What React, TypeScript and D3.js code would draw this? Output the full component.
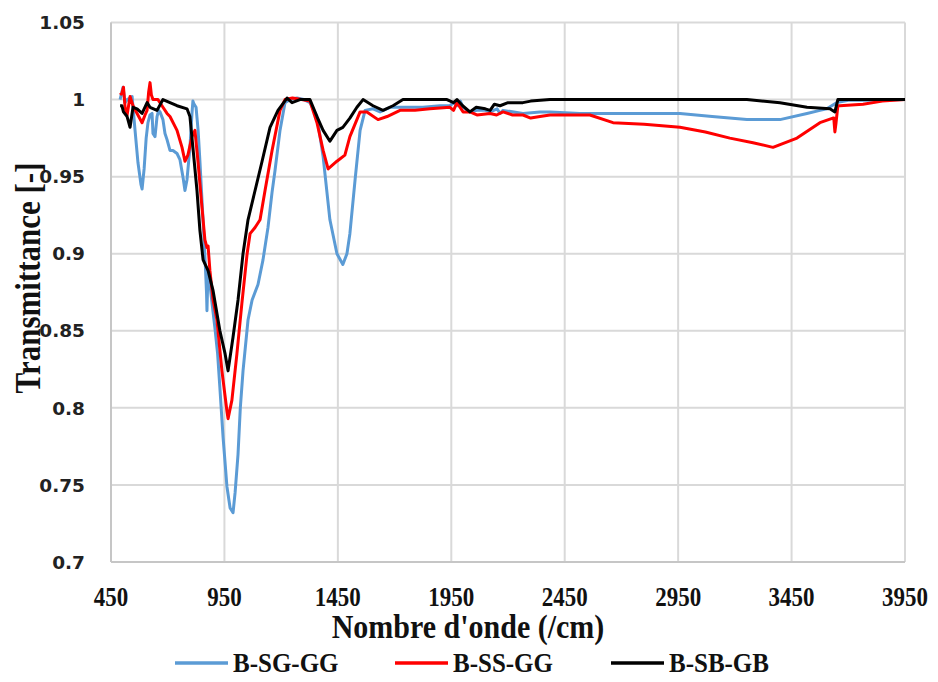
import React from "react";
import * as d3 from "d3";

const xTicks = [450, 950, 1450, 1950, 2450, 2950, 3450, 3950];
const yTicks = [0.7, 0.75, 0.8, 0.85, 0.9, 0.95, 1, 1.05];
const yTickLabels = ["0.7", "0.75", "0.8", "0.85", "0.9", "0.95", "1", "1.05"];

const seriesNames = ["B-SG-GG", "B-SS-GG", "B-SB-GB"];
const seriesColors = ["#5B9BD5", "#FF0000", "#000000"];

const blue: [number, number][] = [
  [490, 1.0], [498, 1.005], [503, 1.008], [512, 0.998], [521, 1.0], [534, 1.001], [543, 1.002],
  [556, 0.98], [569, 0.959], [582, 0.945], [587, 0.942], [596, 0.955], [605, 0.975], [613, 0.985],
  [622, 0.99], [631, 0.991], [635, 0.978], [644, 0.976], [653, 0.989], [660, 0.993], [666, 0.992],
  [679, 0.987], [688, 0.978], [697, 0.974], [710, 0.967], [723, 0.967], [741, 0.965], [754, 0.961],
  [767, 0.95], [776, 0.941], [785, 0.948], [798, 0.969], [807, 0.991], [811, 0.999], [816, 0.997],
  [825, 0.995], [834, 0.98], [842, 0.96], [851, 0.935], [860, 0.91], [866, 0.892], [871, 0.875],
  [873, 0.863], [876, 0.88], [880, 0.89], [890, 0.875], [900, 0.862], [908, 0.852], [920, 0.835],
  [930, 0.813], [944, 0.781], [961, 0.749], [975, 0.735], [988, 0.732], [997, 0.745], [1010, 0.77],
  [1020, 0.8], [1032, 0.824], [1054, 0.857], [1072, 0.87], [1098, 0.88], [1120, 0.896], [1142, 0.917],
  [1160, 0.94], [1173, 0.954], [1195, 0.98], [1217, 0.998], [1240, 1.0], [1270, 1.001], [1300, 1.0],
  [1327, 0.998], [1358, 0.989], [1385, 0.963], [1415, 0.922], [1446, 0.9], [1472, 0.893], [1490, 0.9],
  [1503, 0.913], [1526, 0.948], [1548, 0.98], [1570, 0.993], [1605, 0.994], [1636, 0.992], [1680, 0.995],
  [1755, 0.995], [1825, 0.995], [1900, 0.996], [1944, 0.996], [1960, 0.998], [1975, 0.996], [1990, 0.999],
  [2002, 0.995], [2032, 0.992], [2063, 0.993], [2100, 0.993], [2121, 0.992], [2152, 0.994], [2165, 0.991],
  [2178, 0.993], [2266, 0.991], [2341, 0.992], [2385, 0.992], [2517, 0.991], [2663, 0.991], [2958, 0.991],
  [3100, 0.989], [3253, 0.987], [3399, 0.987], [3518, 0.991], [3575, 0.993], [3605, 0.994], [3650, 0.998],
  [3700, 0.9995], [3800, 0.9995], [3950, 1.0],
];

const red: [number, number][] = [
  [490, 1.003], [498, 1.004], [505, 1.008], [512, 0.995], [521, 0.99], [534, 1.002], [547, 0.996],
  [565, 0.991], [587, 0.985], [600, 0.99], [609, 0.993], [616, 1.005], [622, 1.011], [628, 1.003],
  [635, 1.0], [657, 1.0], [679, 0.995], [697, 0.991], [710, 0.989], [741, 0.98], [763, 0.969],
  [776, 0.96], [789, 0.964], [807, 0.976], [820, 0.98], [834, 0.959], [851, 0.93], [864, 0.909],
  [873, 0.904], [878, 0.905], [886, 0.889], [900, 0.87], [917, 0.857], [939, 0.824], [961, 0.798],
  [966, 0.793], [983, 0.805], [1005, 0.835], [1027, 0.868], [1050, 0.9], [1063, 0.913], [1085, 0.917],
  [1107, 0.922], [1129, 0.941], [1160, 0.967], [1195, 0.993], [1217, 1.0], [1250, 1.001], [1290, 1.0],
  [1327, 0.999], [1358, 0.985], [1385, 0.967], [1407, 0.955], [1446, 0.96], [1481, 0.964], [1503, 0.976],
  [1548, 0.992], [1578, 0.992], [1627, 0.987], [1667, 0.989], [1724, 0.993], [1790, 0.993], [1856, 0.994],
  [1944, 0.995], [1960, 0.993], [1975, 0.998], [2002, 0.992], [2032, 0.992], [2063, 0.99], [2121, 0.991],
  [2150, 0.99], [2178, 0.992], [2220, 0.99], [2266, 0.99], [2300, 0.988], [2341, 0.989], [2385, 0.99],
  [2450, 0.99], [2517, 0.99], [2561, 0.99], [2663, 0.985], [2800, 0.984], [2958, 0.982], [3070, 0.979],
  [3178, 0.975], [3280, 0.972], [3368, 0.969], [3474, 0.975], [3575, 0.985], [3632, 0.988], [3636, 0.988],
  [3641, 0.979], [3646, 0.985], [3654, 0.996], [3663, 0.996], [3765, 0.997], [3850, 0.999], [3950, 1.0],
];

const black: [number, number][] = [
  [490, 0.996], [498, 0.996], [505, 0.992], [521, 0.989], [534, 0.982], [547, 0.995], [565, 0.994],
  [587, 0.991], [609, 0.998], [622, 0.995], [653, 0.993], [679, 1.0], [710, 0.998], [741, 0.996],
  [785, 0.994], [798, 0.989], [811, 0.969], [829, 0.941], [842, 0.915], [856, 0.896], [878, 0.889],
  [900, 0.876], [930, 0.85], [953, 0.835], [966, 0.824], [988, 0.846], [1010, 0.87], [1032, 0.9],
  [1054, 0.922], [1085, 0.941], [1116, 0.96], [1151, 0.982], [1186, 0.993], [1226, 1.001], [1248, 0.998],
  [1283, 1.0], [1327, 1.0], [1358, 0.989], [1385, 0.98], [1415, 0.973], [1446, 0.98], [1472, 0.982],
  [1503, 0.988], [1534, 0.995], [1561, 1.0], [1605, 0.996], [1649, 0.993], [1693, 0.996], [1737, 1.0],
  [1931, 1.0], [1960, 0.998], [1975, 1.0], [2000, 0.996], [2032, 0.992], [2060, 0.995], [2100, 0.994],
  [2121, 0.993], [2140, 0.997], [2165, 0.996], [2200, 0.998], [2266, 0.998], [2300, 0.999], [2385, 1.0],
  [3253, 1.0], [3399, 0.998], [3518, 0.995], [3619, 0.994], [3641, 0.992], [3654, 1.0], [3950, 1.0],
];

const seriesData = [blue, red, black];

export default function App() {
  const W = 938, H = 682;
  const left = 111, right = 905, top = 22.5, bottom = 562;
  const x = d3.scaleLinear().domain([450, 3950]).range([left, right]);
  const y = d3.scaleLinear().domain([0.7, 1.05]).range([bottom, top]);
  const line = d3.line<[number, number]>().x(d => x(d[0])).y(d => y(d[1]));
  const legendX = [175, 395, 611];

  return (
    <svg width={W} height={H} style={{ position: "absolute", left: 0, top: 0, background: "#fff" }}>
      <rect width={W} height={H} fill="#fff" />
      {yTicks.map(t => (
        <line key={"gy" + t} x1={left} x2={right} y1={y(t)} y2={y(t)} stroke="#D9D9D9" strokeWidth={2} />
      ))}
      {xTicks.map(t => (
        <line key={"gx" + t} x1={x(t)} x2={x(t)} y1={top} y2={bottom} stroke="#D9D9D9" strokeWidth={2} />
      ))}
      <line x1={left} x2={left} y1={top} y2={bottom} stroke="#C6C6C6" strokeWidth={2} />
      <line x1={left} x2={right} y1={bottom} y2={bottom} stroke="#C6C6C6" strokeWidth={2} />
      {seriesData.map((s, i) => (
        <path key={i} d={line(s) || ""} fill="none" stroke={seriesColors[i]} strokeWidth={3} strokeLinejoin="round" />
      ))}
      {yTicks.map((t, i) => (
        <text key={"ty" + t} x={85} y={y(t)} dy="0.36em" textAnchor="end" fontFamily="DejaVu Sans" fontWeight="bold" fontSize={18.5} fill="#222">
          {yTickLabels[i]}
        </text>
      ))}
      {xTicks.map(t => (
        <text key={"tx" + t} transform={`translate(${x(t)},606) scale(1,1.18)`} textAnchor="middle" fontFamily="Liberation Sans Narrow" fontWeight="bold" fontSize={23} fill="#111">
          {t}
        </text>
      ))}
      <text transform="translate(468,638) scale(1,1.1)" textAnchor="middle" fontFamily="Liberation Serif" fontWeight="bold" fontSize={30} fill="#111">
        Nombre d'onde (/cm)
      </text>
      <text transform={`translate(40,278) rotate(-90) scale(1,1.15)`} textAnchor="middle" fontFamily="Liberation Serif" fontWeight="bold" fontSize={31} fill="#111">
        Transmittance [-]
      </text>
      {seriesNames.map((n, i) => (
        <g key={n}>
          <line x1={legendX[i]} x2={legendX[i] + 53} y1={663} y2={663} stroke={seriesColors[i]} strokeWidth={3.5} />
          <text transform={`translate(${legendX[i] + 58},672) scale(1,1.1)`} fontFamily="Liberation Sans Narrow" fontWeight="bold" fontSize={25} fill="#111">
            {n}
          </text>
        </g>
      ))}
    </svg>
  );
}
